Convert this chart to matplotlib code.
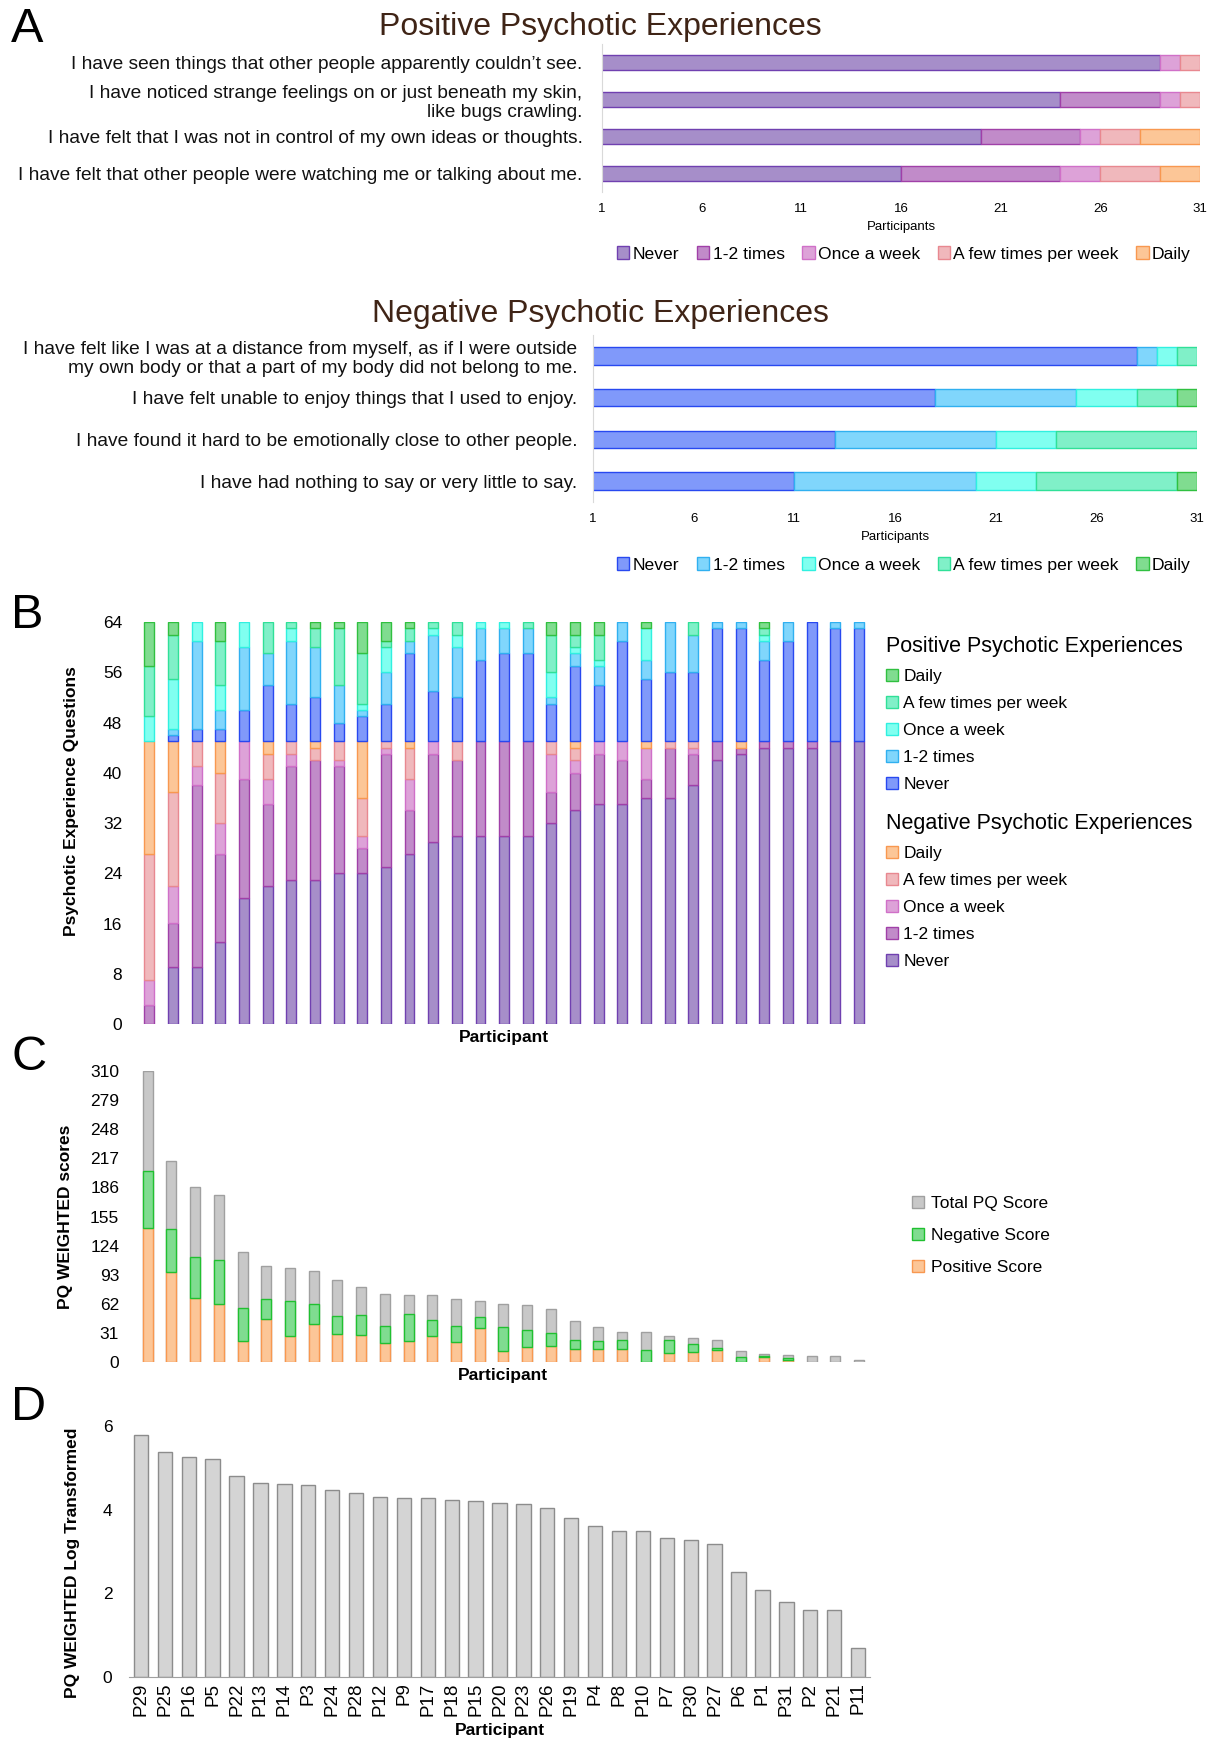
import numpy as np
import matplotlib
matplotlib.use("Agg")
import matplotlib.pyplot as plt
from matplotlib.patches import Patch

plt.rcParams['font.family'] = ['Liberation Sans', 'DejaVu Sans']

# ---- data ----
freq_labels = ["Never", "1-2 times", "Once a week", "A few times per week", "Daily"]

pos_questions = [
    "I have seen things that other people apparently couldn\u2019t see.",
    "I have noticed strange feelings on or just beneath my skin,\nlike bugs crawling.",
    "I have felt that I was not in control of my own ideas or thoughts.",
    "I have felt that other people were watching me or talking about me.",
]
pos_never = [29, 24, 20, 16]
pos_12 = [0, 5, 5, 8]
pos_once = [1, 1, 1, 2]
pos_few = [1, 1, 2, 3]
pos_daily = [0, 0, 3, 2]

neg_questions = [
    "I have felt like I was at a distance from myself, as if I were outside\nmy own body or that a part of my body did not belong to me.",
    "I have felt unable to enjoy things that I used to enjoy.",
    "I have found it hard to be emotionally close to other people.",
    "I have had nothing to say or very little to say.",
]
neg_never = [28, 18, 13, 11]
neg_12 = [1, 7, 8, 9]
neg_once = [1, 3, 3, 3]
neg_few = [1, 2, 7, 7]
neg_daily = [0, 1, 0, 1]

# panel B, per participant (31 bars)
b_low_never = [0, 9, 9, 13, 20, 22, 23, 23, 24, 24, 25, 27, 29, 30, 30, 30, 30, 32, 34, 35, 35, 36, 36, 38, 42, 43, 44, 44, 44, 45, 45]
b_low_12 = [3, 7, 29, 14, 19, 13, 18, 19, 17, 4, 18, 7, 14, 12, 15, 15, 15, 5, 6, 8, 7, 3, 8, 5, 3, 1, 1, 1, 1, 0, 0]
b_low_once = [4, 6, 3, 5, 6, 4, 2, 0, 1, 2, 1, 5, 2, 0, 0, 0, 0, 6, 2, 2, 3, 5, 0, 1, 0, 0, 0, 0, 0, 0, 0]
b_low_few = [20, 15, 4, 8, 0, 4, 2, 2, 3, 6, 1, 5, 0, 3, 0, 0, 0, 2, 2, 0, 0, 0, 1, 1, 0, 0, 0, 0, 0, 0, 0]
b_low_daily = [18, 8, 0, 5, 0, 2, 0, 1, 0, 9, 0, 1, 0, 0, 0, 0, 0, 0, 1, 0, 0, 1, 0, 0, 0, 1, 0, 0, 0, 0, 0]

b_up_never = [0, 1, 2, 2, 5, 9, 6, 7, 3, 4, 6, 14, 8, 7, 13, 14, 14, 6, 12, 9, 16, 10, 11, 11, 18, 18, 13, 16, 19, 18, 18]
b_up_12 = [0, 1, 14, 3, 10, 5, 10, 8, 6, 1, 5, 2, 9, 8, 5, 4, 4, 1, 2, 3, 3, 3, 8, 6, 1, 1, 3, 3, 0, 1, 1]
b_up_once = [4, 8, 3, 4, 4, 0, 2, 0, 0, 1, 4, 0, 1, 2, 1, 1, 0, 4, 1, 1, 0, 5, 0, 0, 0, 0, 1, 0, 0, 0, 0]
b_up_few = [8, 7, 0, 7, 0, 5, 1, 3, 9, 8, 1, 2, 1, 2, 0, 0, 1, 6, 2, 4, 0, 0, 0, 2, 0, 0, 1, 0, 0, 0, 0]
b_up_daily = [7, 2, 0, 3, 0, 0, 0, 1, 1, 5, 3, 1, 0, 0, 0, 0, 0, 2, 2, 2, 0, 1, 0, 0, 0, 0, 1, 0, 0, 0, 0]

# panel C
c_total = [310, 214, 186, 178, 117, 102, 100, 97, 87, 80, 72, 71, 71, 67, 65, 62, 61, 56, 44, 37, 32, 32, 28, 26, 23, 12, 8, 7, 6, 6, 2.5]
c_positive = [143, 96, 68, 62, 22, 46, 28, 40, 30, 29, 20, 22, 28, 21, 36, 12, 16, 17, 14, 14, 14, 0, 10, 11, 13, 0, 5, 2.5, 0, 0, 0]
c_negative = [60, 46, 44, 47, 36, 21, 37, 22, 19, 21, 18, 29, 17, 17, 12, 25, 18, 14, 9, 8, 9, 13, 13, 8, 2, 5, 1, 1.5, 0, 0, 0]

# panel D
d_participants = ["P29", "P25", "P16", "P5", "P22", "P13", "P14", "P3", "P24", "P28", "P12", "P9",
                  "P17", "P18", "P15", "P20", "P23", "P26", "P19", "P4", "P8", "P10", "P7", "P30",
                  "P27", "P6", "P1", "P31", "P2", "P21", "P11"]
d_log = [5.78, 5.39, 5.26, 5.2, 4.8, 4.64, 4.62, 4.59, 4.48, 4.41, 4.3, 4.28, 4.28, 4.23, 4.21,
         4.15, 4.13, 4.05, 3.79, 3.61, 3.48, 3.48, 3.33, 3.27, 3.17, 2.5, 2.08, 1.8, 1.61, 1.61, 0.69]

# ---- styles ----
purple_fc = ['#a68ec9', '#c18bc9', '#dda2d8', '#f0b8bc', '#fcc697']
purple_ec = ['#7040b0', '#a040a8', '#d070c8', '#e88890', '#f89850']
blue_fc = ['#8099fa', '#80d6fc', '#80fff0', '#80f0c8', '#80dc90']
blue_ec = ['#2848f0', '#30b0f0', '#30f0e0', '#30e098', '#30c040']
title_col = '#3f2416'

W, H = 1216, 1742


def box(l, t, r, b):
    return [l / W, 1 - b / H, (r - l) / W, (b - t) / H]


def hide_empty(container):
    for p in container.patches:
        if p.get_width() == 0 or p.get_height() == 0:
            p.set_visible(False)


fig = plt.figure(figsize=(W / 100, H / 100), dpi=100)


def likert_panel(rect, questions, series, fcs, ecs, title, title_y, leg_y, pad):
    ax = fig.add_axes(box(*rect))
    ypos = np.arange(len(questions))[::-1]
    left = np.zeros(len(questions))
    for vals, fc, ec in zip(series, fcs, ecs):
        vals = np.array(vals, dtype=float)
        bars = ax.barh(ypos, vals, left=left, height=0.42, color=fc, edgecolor=ec, linewidth=1)
        hide_empty(bars)
        left += vals
    ax.set_xlim(1, 31)
    ax.set_ylim(-0.5, len(questions) - 0.5)
    ax.set_xticks(range(1, 32, 5))
    ax.set_yticks(ypos, questions, fontsize=13.8, color='#111111')
    for t in ax.get_yticklabels():
        t.set_multialignment('right')
        t.set_linespacing(1.18)
    ax.tick_params(axis='y', length=0, pad=pad)
    ax.tick_params(axis='x', length=0, pad=8, labelsize=9.5)
    ax.set_xlabel("Participants", fontsize=9.5, labelpad=4)
    for s in ['top', 'right', 'bottom']:
        ax.spines[s].set_visible(False)
    ax.spines['left'].set_color('#d9d9d9')
    fig.text(600 / W, 1 - title_y / H, title, fontsize=23, color=title_col, ha='center', va='center')
    handles = [Patch(facecolor=fc, edgecolor=ec) for fc, ec in zip(fcs, ecs)]
    fig.legend(handles, freq_labels, loc='center', bbox_to_anchor=(904 / W, 1 - leg_y / H), ncol=5,
               frameon=False, fontsize=12.6, handlelength=0.7, handleheight=0.7, handletextpad=0.2,
               columnspacing=1.0)
    return ax


likert_panel((602, 44, 1200, 192), pos_questions, [pos_never, pos_12, pos_once, pos_few, pos_daily],
             purple_fc, purple_ec, "Positive Psychotic Experiences", 27, 254, 14)
likert_panel((593, 335, 1197, 502), neg_questions, [neg_never, neg_12, neg_once, neg_few, neg_daily],
             blue_fc, blue_ec, "Negative Psychotic Experiences", 314, 565, 11.5)

# ---- panel B ----
axb = fig.add_axes(box(137.5, 622, 870.8, 1024))
x = np.arange(len(b_low_never))
bottom = np.zeros(len(x))
for vals, fc, ec in zip([b_low_never, b_low_12, b_low_once, b_low_few, b_low_daily], purple_fc, purple_ec):
    vals = np.array(vals, dtype=float)
    hide_empty(axb.bar(x, vals, bottom=bottom, width=0.42, color=fc, edgecolor=ec, linewidth=1))
    bottom += vals
for vals, fc, ec in zip([b_up_never, b_up_12, b_up_once, b_up_few, b_up_daily], blue_fc, blue_ec):
    vals = np.array(vals, dtype=float)
    hide_empty(axb.bar(x, vals, bottom=bottom, width=0.42, color=fc, edgecolor=ec, linewidth=1))
    bottom += vals
axb.set_xlim(-0.5, len(x) - 0.5)
axb.set_ylim(0, 64)
axb.set_yticks(range(0, 65, 8))
axb.set_xticks([])
axb.tick_params(axis='y', length=0, pad=11, labelsize=12.5)
for s in axb.spines.values():
    s.set_visible(False)
axb.set_ylabel("Psychotic Experience Questions", fontsize=12.5, fontweight='bold')
axb.yaxis.set_label_coords(-0.08, 0.555)
axb.set_xlabel("Participant", fontsize=12.5, fontweight='bold', labelpad=4)

rev = slice(None, None, -1)
h_pos = [Patch(facecolor=fc, edgecolor=ec) for fc, ec in zip(blue_fc[rev], blue_ec[rev])]
h_neg = [Patch(facecolor=fc, edgecolor=ec) for fc, ec in zip(purple_fc[rev], purple_ec[rev])]
for handles, ttl, top in [(h_pos, "Positive Psychotic Experiences", 636),
                          (h_neg, "Negative Psychotic Experiences", 813)]:
    leg = fig.legend(handles, freq_labels[rev], title=ttl, loc='upper left',
                     bbox_to_anchor=(886 / W, 1 - top / H), frameon=False, fontsize=12.5,
                     title_fontsize=15.5, alignment='left', handlelength=0.7, handleheight=0.7,
                     handletextpad=0.3, labelspacing=0.68, borderpad=0, borderaxespad=0)

# ---- panel C ----
axc = fig.add_axes(box(135.8, 1071, 871, 1362))
xc = np.arange(len(c_total))
hide_empty(axc.bar(xc, c_total, width=0.42, color='#c8c8c8', edgecolor='#a0a0a0', linewidth=1))
hide_empty(axc.bar(xc, c_positive, width=0.42, color='#fcc697', edgecolor='#f89850', linewidth=1))
hide_empty(axc.bar(xc, c_negative, bottom=c_positive, width=0.42, color='#80dc90', edgecolor='#20c030',
                   linewidth=1))
axc.set_xlim(-0.5, len(xc) - 0.5)
axc.set_ylim(0, 310)
axc.set_yticks(range(0, 311, 31))
axc.set_xticks([])
axc.tick_params(axis='y', length=0, pad=12, labelsize=12.5)
for s in axc.spines.values():
    s.set_visible(False)
axc.set_ylabel("PQ WEIGHTED scores", fontsize=12.5, fontweight='bold', labelpad=12)
axc.set_xlabel("Participant", fontsize=12.5, fontweight='bold', labelpad=4)
hc = [Patch(facecolor='#c8c8c8', edgecolor='#a0a0a0'),
      Patch(facecolor='#80dc90', edgecolor='#20c030'),
      Patch(facecolor='#fcc697', edgecolor='#f89850')]
fig.legend(hc, ["Total PQ Score", "Negative Score", "Positive Score"], loc='upper left',
           bbox_to_anchor=(912 / W, 1 - 1196 / H), frameon=False, fontsize=12.5,
           handlelength=0.7, handleheight=0.7, handletextpad=0.4, labelspacing=0.98,
           borderpad=0, borderaxespad=0)

# ---- panel D ----
axd = fig.add_axes(box(129, 1426, 870, 1677))
xd = np.arange(len(d_log))
axd.bar(xd, d_log, width=0.6, color='#d4d4d4', edgecolor='#8c8c8c', linewidth=1)
axd.set_xlim(-0.5, len(xd) - 0.5)
axd.set_ylim(0, 6)
axd.set_yticks([0, 2, 4, 6])
axd.set_xticks(xd, d_participants, rotation=90, fontsize=13.5)
axd.tick_params(axis='y', length=0, pad=12, labelsize=12.5)
axd.tick_params(axis='x', length=0, pad=4)
for s in ['top', 'right', 'left']:
    axd.spines[s].set_visible(False)
axd.spines['bottom'].set_color('#a0a0a0')
axd.set_ylabel("PQ WEIGHTED Log Transformed", fontsize=12.5, fontweight='bold')
axd.yaxis.set_label_coords(-0.066, 0.456)
axd.set_xlabel("Participant", fontsize=12.5, fontweight='bold', labelpad=5)

# panel letters
for letter, top in [("A", 7), ("B", 593), ("C", 1035), ("D", 1385)]:
    fig.text(11 / W, 1 - top / H, letter, fontsize=35, ha='left', va='top')

fig.savefig("out.png", dpi=100)
